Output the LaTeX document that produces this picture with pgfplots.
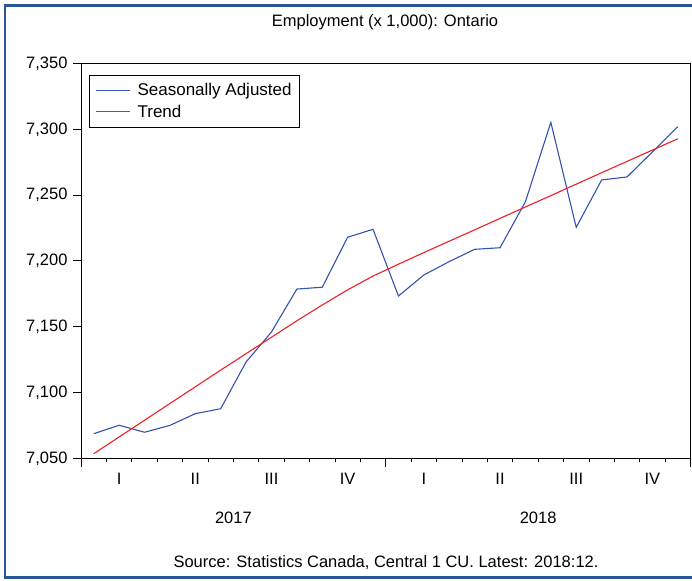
\documentclass[border=0pt]{standalone}
\usepackage{pgfplots}
\pgfplotsset{compat=1.18}
\usepackage{fontspec}
\setmainfont{Liberation Sans}
\definecolor{sablue}{RGB}{52,82,178}
\definecolor{trendred}{RGB}{236,32,36}
\definecolor{framec}{RGB}{40,86,150}

\begin{document}
\begin{tikzpicture}
% page = 692 x 580 px, 1px = 1pt
\path[use as bounding box] (0pt,0pt) rectangle (692pt,580pt);
\draw[framec, line width=2.6pt] (700pt,574.2pt) -- (4.8pt,574.2pt) -- (4.8pt,2.3pt) -- (700pt,2.3pt);

\begin{axis}[
    at={(81pt,121.7pt)}, anchor=south west,
    scale only axis,
    width=609.5pt, height=394.8pt,
    xmin=0, xmax=24,
    ymin=7050, ymax=7350,
    ytick={7050,7100,...,7350},
    xtick={1.5,4.5,...,22.5},
    xticklabels={I,II,III,IV,I,II,III,IV},
    minor xtick={0,...,24},
    extra x ticks={0,3,...,24},
    extra x tick labels={},
    extra x tick style={major tick length=6.5pt, tick style={black, line width=0.8pt}},
    tick align=outside,
    xtick pos=bottom, ytick pos=left,
    major tick length=7.5pt,
    minor tick length=4pt,
    x tick style={draw=none},
    minor x tick style={draw=black, line width=0.6pt},
    y tick style={black, line width=0.8pt},
    axis line style={black, line width=0.9pt},
    tick label style={font=\fontsize{16.5}{18}\selectfont},
    xticklabel style={yshift=-4pt},
    yticklabel style={xshift=-2.5pt},
    /pgf/number format/.cd, fixed, 1000 sep={,}, assume math mode=true,
    /pgfplots/.cd,
    legend style={
        at={(0.0136,0.971)}, anchor=north west,
        draw=black, fill=white,
        font=\fontsize{17}{19}\selectfont,
        inner xsep=6pt, inner ysep=6.5pt,
        row sep=3.5pt,
        /tikz/every odd column/.append style={column sep=5pt},
    },
    legend cell align=left,
    clip=false,
]

% Seasonally adjusted, monthly 2017:01 - 2018:12
\addplot[sablue, line width=1.1pt, forget plot] coordinates {
    (0.5,7068.7) (1.5,7075.1) (2.5,7069.8) (3.5,7075.0) (4.5,7083.9) (5.5,7087.7)
    (6.5,7123.2) (7.5,7146.0) (8.5,7178.6) (9.5,7180.0) (10.5,7218.0) (11.5,7224.0)
    (12.5,7173.3) (13.5,7189.3) (14.5,7199.5) (15.5,7208.8) (16.5,7210.0) (17.5,7245.0)
    (18.5,7305.3) (19.5,7225.5) (20.5,7261.5) (21.5,7263.8) (22.5,7282.8) (23.5,7302.0)
};

% Trend
\addplot[trendred, line width=1.1pt, forget plot] coordinates {
    (0.5,7053.5) (1.5,7066.2) (2.5,7078.9) (3.5,7091.6) (4.5,7104.3) (5.5,7117.0)
    (6.5,7129.5) (7.5,7142.0) (8.5,7154.5) (9.5,7166.5) (10.5,7178.0) (11.5,7188.5)
    (12.5,7197.5) (13.5,7206.3) (14.5,7215.0) (15.5,7223.6) (16.5,7232.3) (17.5,7241.0)
    (18.5,7249.6) (19.5,7258.3) (20.5,7267.0) (21.5,7275.6) (22.5,7284.2) (23.5,7292.8)
};

\addlegendimage{legend image code/.code={\draw[sablue, line width=1.1pt] (0pt,0pt) -- (34pt,0pt);}}
\addlegendentry{Seasonally Adjusted}
\addlegendimage{legend image code/.code={\draw[trendred, line width=1.1pt] (0pt,0pt) -- (34pt,0pt);}}
\addlegendentry{Trend}

% longer ticks at year boundaries
\draw[black, line width=0.9pt] (axis cs:0,7050) -- ([yshift=-9pt]axis cs:0,7050);
\draw[black, line width=0.9pt] (axis cs:12,7050) -- ([yshift=-9pt]axis cs:12,7050);
\draw[black, line width=0.9pt] (axis cs:24,7050) -- ([yshift=-9pt]axis cs:24,7050);

\node[font=\fontsize{16.5}{18}\selectfont] at ([yshift=-60pt]axis cs:6,7050) {2017};
\node[font=\fontsize{16.5}{18}\selectfont] at ([yshift=-60pt]axis cs:18,7050) {2018};
\end{axis}

\node[font=\fontsize{16.5}{18}\selectfont] at (385pt,558pt) {Employment (x 1,000): Ontario};
\node[font=\fontsize{16.5}{18}\selectfont] at (386pt,17pt) {Source: Statistics Canada, Central 1 CU. Latest: 2018:12.};
\end{tikzpicture}
\end{document}
